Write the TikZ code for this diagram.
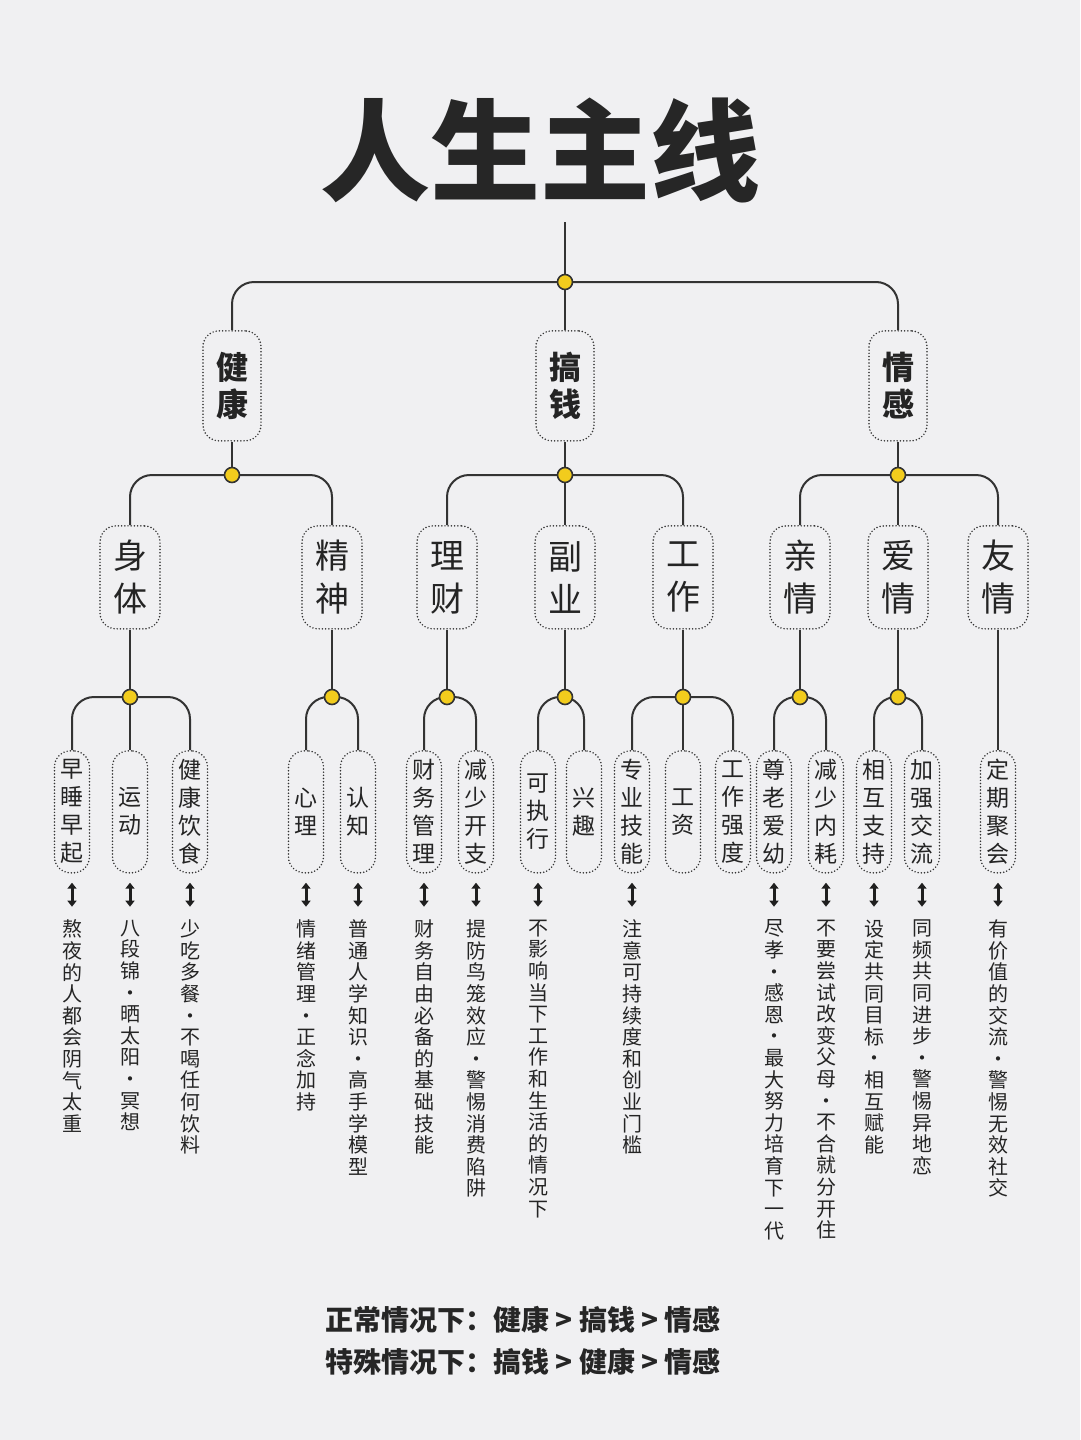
\documentclass[tikz,border=0pt]{standalone}
\usepackage{fontspec}
\setmainfont{Noto Sans CJK SC}
\usetikzlibrary{arrows.meta}
\pgfdeclarelayer{bgl}
\pgfsetlayers{bgl,main}
\definecolor{bg}{HTML}{F0F0F2}
\definecolor{ln}{HTML}{333333}
\definecolor{dotc}{HTML}{F2CC1D}
\begin{document}
\begin{tikzpicture}[x=1pt,y=-1pt,
  every node/.style={inner sep=0pt, text=ln!70!black},
  con/.style={draw=ln, line width=2pt, rounded corners=22pt},
  jd/.style={circle, draw=ln, line width=1.6pt, fill=dotc, minimum size=15pt},
  box/.style={draw=ln, line cap=round, dash pattern=on 0pt off 3.2pt, line width=1.7pt, rounded corners=16pt, anchor=north, align=center},
  l1/.style={box, minimum width=58pt, minimum height=110pt, font=\bfseries\fontsize{32}{37}\selectfont},
  l2/.style={box, minimum width=60pt, minimum height=103pt, font=\fontsize{34}{43}\selectfont},
  l3/.style={box, minimum width=35pt, minimum height=122pt, font=\fontsize{23}{28}\selectfont},
  desc/.style={anchor=north, align=center, font=\fontsize{20}{21.6}\selectfont},
  ar/.style={draw=ln!60!black, line width=3pt, {Triangle[length=6pt,width=9pt]}-{Triangle[length=6pt,width=9pt]}}
]
\begin{pgfonlayer}{bgl}
\fill[bg] (0,0) rectangle (1080,1440);
\end{pgfonlayer}
\useasboundingbox (0,0) rectangle (1080,1440);
\node[font=\bfseries\fontsize{110}{110}\selectfont, text=black!85] (title) at (540,150) {人生主线};
% root
\coordinate (top) at (565,222);
\node[jd] (d0) at (565,282) {};
\node[l1] (jk) at (232,330) {健\\康};
\node[l1] (gq) at (565,330) {搞\\钱};
\node[l1] (qg) at (898,330) {情\\感};
% level 2
\node[l2] (st) at (130,525) {身\\体};
\node[l2] (js) at (332,525) {精\\神};
\node[l2] (lc) at (447,525) {理\\财};
\node[l2] (fy) at (565,525) {副\\业};
\node[l2] (gz) at (683,525) {工\\作};
\node[l2] (qq) at (800,525) {亲\\情};
\node[l2] (aq) at (898,525) {爱\\情};
\node[l2] (yq) at (998,525) {友\\情};
\node[jd] (d1) at (232,475) {};
\node[jd] (d2) at (565,475) {};
\node[jd] (d3) at (898,475) {};
% level 3
\node[l3] (a1) at (72,750) {早\\睡\\早\\起};
\node[l3] (a2) at (130,750) {运\\动};
\node[l3] (a3) at (190,750) {健\\康\\饮\\食};
\node[l3] (b1) at (306,750) {心\\理};
\node[l3] (b2) at (358,750) {认\\知};
\node[l3] (c1) at (424,750) {财\\务\\管\\理};
\node[l3] (c2) at (476,750) {减\\少\\开\\支};
\node[l3] (e1) at (538,750) {可\\执\\行};
\node[l3] (e2) at (584,750) {兴\\趣};
\node[l3] (f1) at (632,750) {专\\业\\技\\能};
\node[l3] (f2) at (683,750) {工\\资};
\node[l3] (f3) at (733,750) {工\\作\\强\\度};
\node[l3] (g1) at (774,750) {尊\\老\\爱\\幼};
\node[l3] (g2) at (826,750) {减\\少\\内\\耗};
\node[l3] (h1) at (874,750) {相\\互\\支\\持};
\node[l3] (h2) at (922,750) {加\\强\\交\\流};
\node[l3] (i1) at (998,750) {定\\期\\聚\\会};
\node[jd] (s1) at (130,697) {};
\node[jd] (s2) at (332,697) {};
\node[jd] (s3) at (447,697) {};
\node[jd] (s4) at (565,697) {};
\node[jd] (s5) at (683,697) {};
\node[jd] (s6) at (800,697) {};
\node[jd] (s7) at (898,697) {};
\begin{pgfonlayer}{bgl}
\draw[con] (top) -- (d0.center);
\draw[con] (d0.center) -| (jk.north);
\draw[con] (d0.center) -| (qg.north);
\draw[con] (d0.center) -- (gq.north);
\draw[con] (jk.south) -- (d1.center); \draw[con] (d1.center) -| (st.north); \draw[con] (d1.center) -| (js.north);
\draw[con] (gq.south) -- (d2.center); \draw[con] (d2.center) -| (lc.north); \draw[con] (d2.center) -| (gz.north); \draw[con] (d2.center) -- (fy.north);
\draw[con] (qg.south) -- (d3.center); \draw[con] (d3.center) -| (qq.north); \draw[con] (d3.center) -| (yq.north); \draw[con] (d3.center) -- (aq.north);
\draw[con] (st.south) -- (s1.center); \draw[con] (s1.center) -| (a1.north); \draw[con] (s1.center) -| (a3.north); \draw[con] (s1.center) -- (a2.north);
\draw[con] (js.south) -- (s2.center); \draw[con] (s2.center) -| (b1.north); \draw[con] (s2.center) -| (b2.north);
\draw[con] (lc.south) -- (s3.center); \draw[con] (s3.center) -| (c1.north); \draw[con] (s3.center) -| (c2.north);
\draw[con] (fy.south) -- (s4.center); \draw[con] (s4.center) -| (e1.north); \draw[con] (s4.center) -| (e2.north);
\draw[con] (gz.south) -- (s5.center); \draw[con] (s5.center) -| (f1.north); \draw[con] (s5.center) -| (f3.north); \draw[con] (s5.center) -- (f2.north);
\draw[con] (qq.south) -- (s6.center); \draw[con] (s6.center) -| (g1.north); \draw[con] (s6.center) -| (g2.north);
\draw[con] (aq.south) -- (s7.center); \draw[con] (s7.center) -| (h1.north); \draw[con] (s7.center) -| (h2.north);
\draw[con] (yq.south) -- (i1.north);
\end{pgfonlayer}
% arrows and descriptions
\foreach \n/\t in {
 a1/{熬\\夜\\的\\人\\都\\会\\阴\\气\\太\\重},
 a2/{八\\段\\锦\\·\\晒\\太\\阳\\·\\冥\\想},
 a3/{少\\吃\\多\\餐\\·\\不\\喝\\任\\何\\饮\\料},
 b1/{情\\绪\\管\\理\\·\\正\\念\\加\\持},
 b2/{普\\通\\人\\学\\知\\识\\·\\高\\手\\学\\模\\型},
 c1/{财\\务\\自\\由\\必\\备\\的\\基\\础\\技\\能},
 c2/{提\\防\\鸟\\笼\\效\\应\\·\\警\\惕\\消\\费\\陷\\阱},
 e1/{不\\影\\响\\当\\下\\工\\作\\和\\生\\活\\的\\情\\况\\下},
 f1/{注\\意\\可\\持\\续\\度\\和\\创\\业\\门\\槛},
 g1/{尽\\孝\\·\\感\\恩\\·\\最\\大\\努\\力\\培\\育\\下\\一\\代},
 g2/{不\\要\\尝\\试\\改\\变\\父\\母\\·\\不\\合\\就\\分\\开\\住},
 h1/{设\\定\\共\\同\\目\\标\\·\\相\\互\\赋\\能},
 h2/{同\\频\\共\\同\\进\\步\\·\\警\\惕\\异\\地\\恋},
 i1/{有\\价\\值\\的\\交\\流\\·\\警\\惕\\无\\效\\社\\交}}{
  \coordinate (\n-p) at ([yshift=-9pt]\n.south);
  \coordinate (\n-q) at ([yshift=-33pt]\n.south);
  \draw[ar] (\n-p) -- (\n-q);
  \node[desc] (\n-d) at ([yshift=-46pt]\n.south) {\t};
}
\node[font=\bfseries\fontsize{28}{32}\selectfont, text=black!85] (n1) at (523,1320) {正常情况下：健康 > 搞钱 > 情感};
\node[font=\bfseries\fontsize{28}{32}\selectfont, text=black!85] (n2) at (523,1362) {特殊情况下：搞钱 > 健康 > 情感};
\end{tikzpicture}
\end{document}
